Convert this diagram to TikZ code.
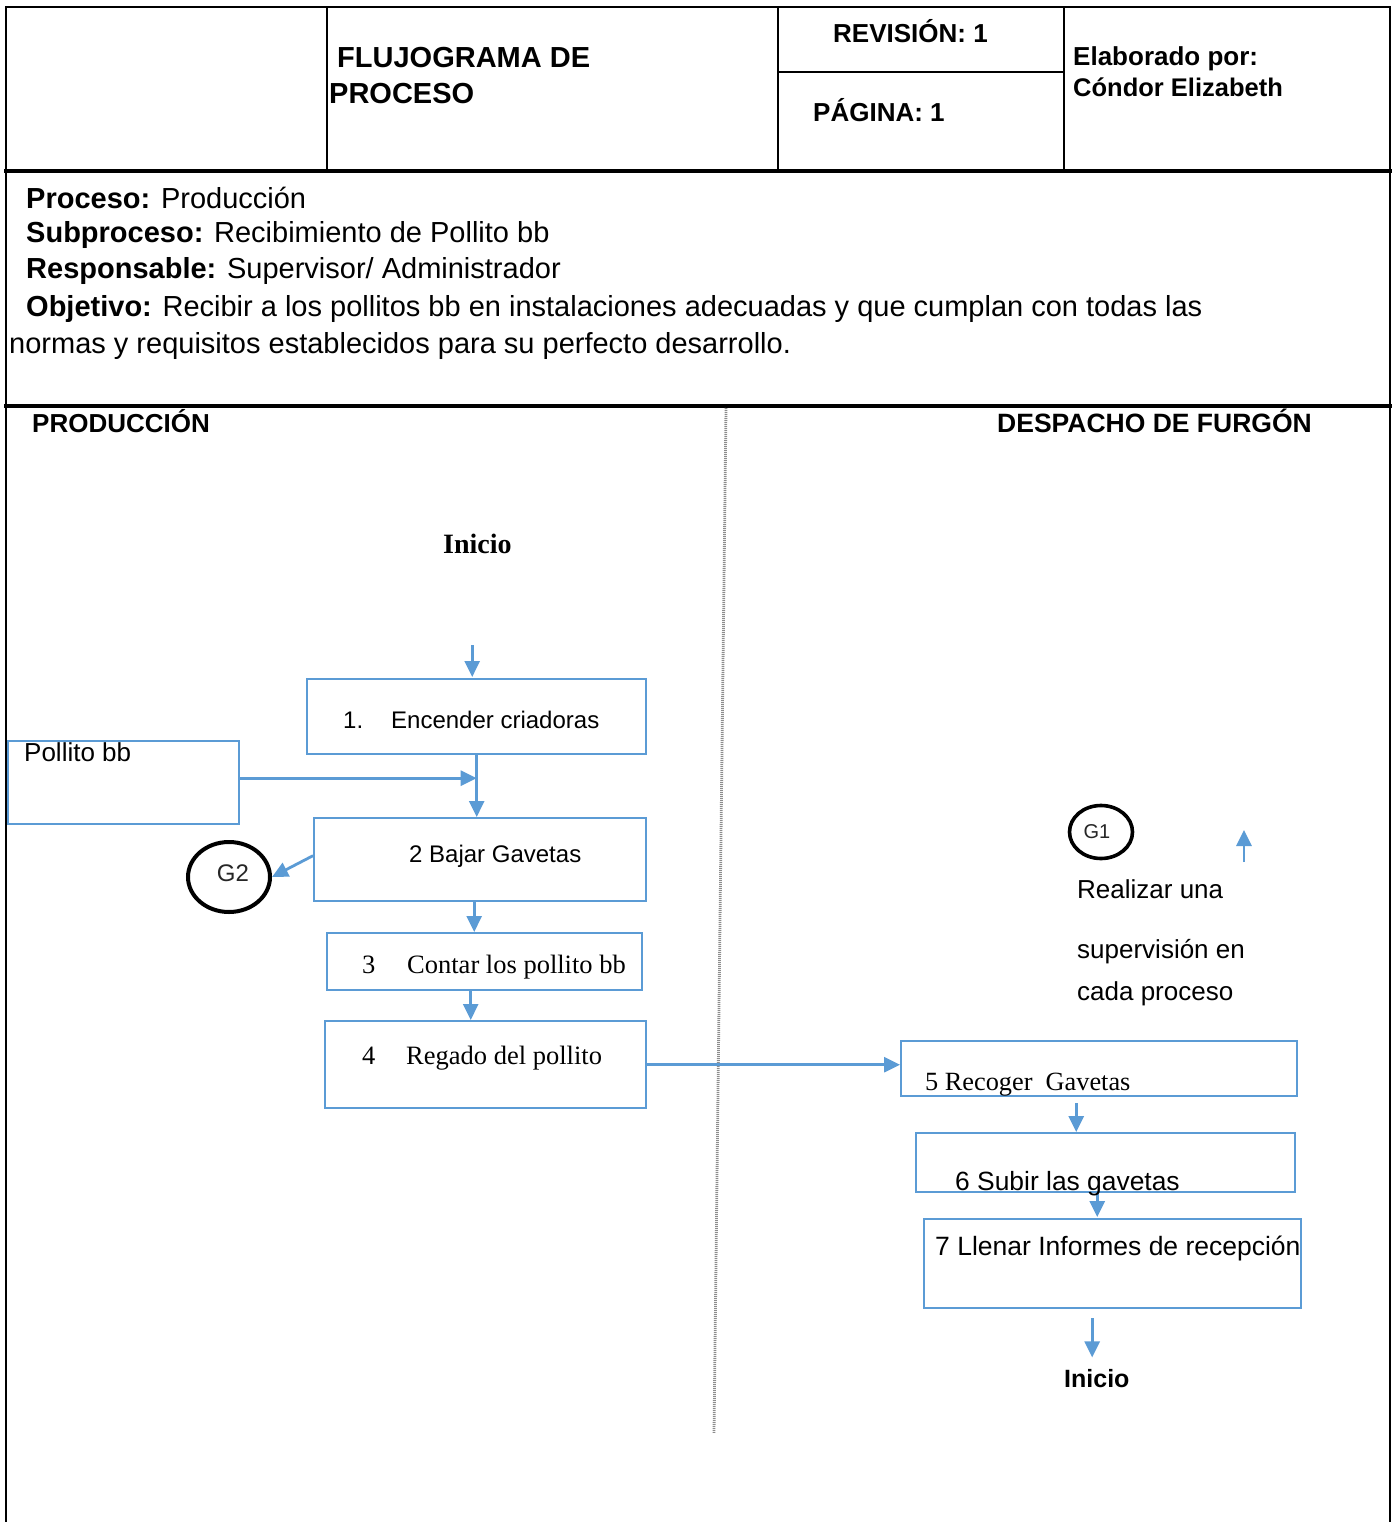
\documentclass[tikz,border=0pt]{standalone}
\usepackage{fontspec}
\setmainfont{Liberation Sans}
\newfontfamily\serifrm{Liberation Serif}
\usetikzlibrary{arrows.meta,shapes.geometric}
\definecolor{flowblue}{HTML}{5B9BD5}
\newcommand\setfs[1]{\fontsize{#1pt}{#1pt}\selectfont}
\begin{document}
\begin{tikzpicture}[x=1pt,y=-1pt,
  frame/.style={line width=2.2pt,line cap=rect},
  thickframe/.style={line width=3.4pt,line cap=rect},
  flowbox/.style={draw=flowblue,line width=2.4pt,inner sep=0pt,anchor=north west},
  flowarr/.style={draw=flowblue,line width=2.8pt,-{Triangle[length=16pt,width=15pt]}},
  txt/.style={inner sep=0pt,anchor=base west},
  ring/.style={draw=black,line width=4pt,ellipse,inner sep=0pt}]
\useasboundingbox (0,0) rectangle (1395,1522);
\fill[white] (0,0) rectangle (1395,1522);

% ---- header table ----
\draw[frame] (6,7) -- (1390,7);
\draw[frame] (6,7) -- (6,1522);
\draw[frame] (1390,7) -- (1390,1522);
\draw[frame] (327,7) -- (327,171);
\draw[frame] (778,7) -- (778,171);
\draw[frame] (1064,7) -- (1064,171);
\draw[frame] (778,72) -- (1064,72);
\draw[thickframe] (6,171) -- (1390,171);
\draw[thickframe] (6,406) -- (1390,406);

\node[txt,font=\setfs{29}\bfseries] (t1) at (337,68) {FLUJOGRAMA DE};
\node[txt,font=\setfs{29}\bfseries] (t2) at (329,104) {PROCESO};
\node[txt,font=\setfs{26}\bfseries] (rev) at (833,43) {REVISIÓN: 1};
\node[txt,font=\setfs{26}\bfseries] (pag) at (813,122) {PÁGINA: 1};
\node[txt,font=\setfs{26}\bfseries] (ela) at (1073,66) {Elaborado por:};
\node[txt,font=\setfs{25.5}\bfseries] (aut) at (1073,97) {Cóndor Elizabeth};

% ---- process data ----
\node[txt,font=\setfs{29}] (pr) at (26,209) {\textbf{Proceso:} Producción};
\node[txt,font=\setfs{29}] (sp) at (26,243) {\textbf{Subproceso:} Recibimiento de Pollito bb};
\node[txt,font=\setfs{29}] (re) at (26,278) {\textbf{Responsable:} Supervisor/ Administrador};
\node[txt,font=\setfs{29}] (ob) at (26,316) {\textbf{Objetivo:} Recibir a los pollitos bb en instalaciones adecuadas y que cumplan con todas las};
\node[txt,font=\setfs{29}] (ob2) at (9,353) {normas y requisitos establecidos para su perfecto desarrollo.};

% ---- lanes ----
\node[txt,font=\setfs{26}\bfseries] (lane1) at (32,432) {PRODUCCIÓN};
\node[txt,font=\setfs{26.5}\bfseries] (lane2) at (997,432) {DESPACHO DE FURGÓN};
\coordinate (dtop) at (726,408);
\coordinate (dbot) at (714,1433);
\draw[black!45,line width=2.8pt,dash pattern=on 1pt off 1pt] (dtop) -- (dbot);

% ---- production lane ----
\node[txt,font=\serifrm\setfs{28}\bfseries] (ini1) at (443,553) {Inicio};

\node[flowbox,minimum width=339pt,minimum height=75pt] (b1) at (306,678) {};
\node[txt,font=\setfs{24}] (b1n) at (343,728) {1.};
\node[txt,font=\setfs{24}] (b1t) at (391,728) {Encender criadoras};

\node[flowbox,minimum width=231pt,minimum height=83pt] (pb) at (7,740) {};
\node[txt,font=\setfs{26}] (pbt) at (24,761) {Pollito bb};

\node[flowbox,minimum width=332pt,minimum height=83pt] (b2) at (313,817) {};
\node[txt,font=\setfs{24}] (b2t) at (409,862) {2 Bajar Gavetas};

\node[ring,minimum width=82pt,minimum height=70pt] (g2) at (229,877) {};
\node[font=\setfs{24},text=black!85,inner sep=0pt] (g2t) at (233,873) {G2};

\node[flowbox,minimum width=315pt,minimum height=57pt] (b3) at (326,932) {};
\node[txt,font=\serifrm\setfs{26.5}] (b3n) at (362,973) {3};
\node[txt,font=\serifrm\setfs{26.5}] (b3t) at (407,973) {Contar los pollito bb};

\node[flowbox,minimum width=321pt,minimum height=87pt] (b4) at (324,1020) {};
\node[txt,font=\serifrm\setfs{26.5}] (b4n) at (362,1064) {4};
\node[txt,font=\serifrm\setfs{26.5}] (b4t) at (406,1064) {Regado del pollito};

% ---- dispatch lane ----
\node[ring,line width=3.6pt,minimum width=63pt,minimum height=53pt] (g1) at (1101,832) {};
\node[font=\setfs{20},text=black!85,inner sep=0pt] (g1t) at (1097,832) {G1};
\coordinate (upa) at (1244,862);
\coordinate (upb) at (1244,830);
\node[txt,font=\setfs{26}] (n1) at (1077,898) {Realizar una};
\node[txt,font=\setfs{26}] (n2) at (1077,958) {supervisión en};
\node[txt,font=\setfs{26}] (n3) at (1077,1000) {cada proceso};

\node[flowbox,minimum width=396pt,minimum height=55pt] (b5) at (900,1040) {};
\node[txt,font=\serifrm\setfs{26.3}] (b5t) at (925,1090) {5 Recoger\ \ Gavetas};

\node[flowbox,minimum width=379pt,minimum height=59pt] (b6) at (915,1132) {};

\node[flowbox,minimum width=377pt,minimum height=89pt] (b7) at (923,1218) {};
\node[txt,font=\setfs{26.5}] (b7t) at (935,1255) {7 Llenar Informes de recepción};

\node[txt,font=\setfs{25}\bfseries] (ini2) at (1064,1387) {Inicio};

% ---- connectors ----
\draw[flowarr] ([xshift=-4.5pt,yshift=33pt]b1.north) -- ([xshift=-4.5pt,yshift=1pt]b1.north);
\draw[flowarr] (b1.south) -- (b1.south |- b2.north);
\draw[flowarr] ([yshift=4.5pt]pb.east) -- ([yshift=4.5pt]pb.east -| b1.south);
\draw[flowarr] ([yshift=4pt]b2.west) -- (g2.east);
\draw[flowarr] ([xshift=-6pt]b2.south) -- ([xshift=-6pt]b2.south |- b3.north);
\draw[flowarr] ([xshift=-14pt]b3.south) -- ([xshift=-14pt]b3.south |- b4.north);
\draw[flowarr] (b4.east) -- (b4.east -| b5.west);
\draw[flowarr] ([xshift=-29.5pt,yshift=29pt]b6.north) -- ([xshift=-29.5pt]b6.north);
\draw[flowarr] ([xshift=-15.5pt]b7.north |- b6.south) -- ([xshift=-15.5pt,yshift=1pt]b7.north);
\draw[flowarr] ([xshift=-20.5pt,yshift=-9pt]b7.south) -- ([xshift=-20.5pt,yshift=-48pt]b7.south);
\draw[flowarr] (upa) -- (upb);

% step 6 label sits over the lower edge of its box
\node[txt,font=\setfs{26.4}] (b6t) at (955,1190) {6 Subir las gavetas};
\end{tikzpicture}
\end{document}
